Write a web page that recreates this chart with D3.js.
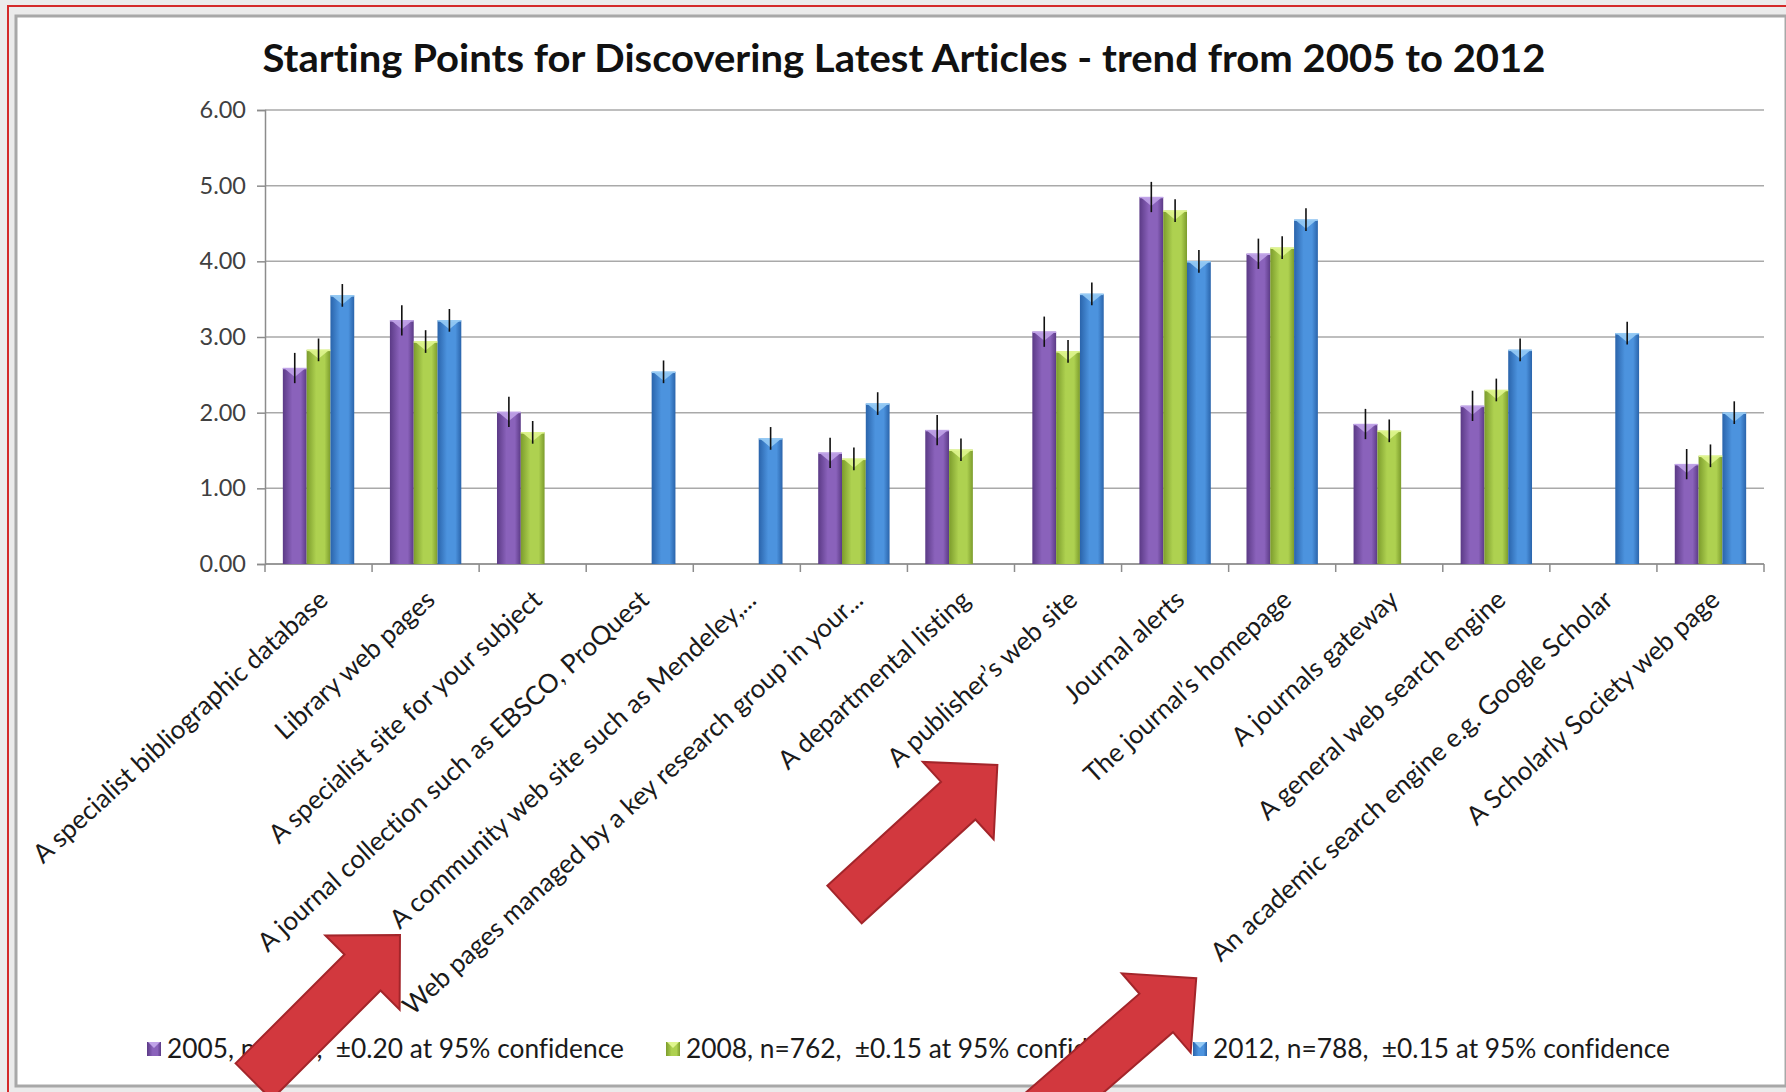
<!DOCTYPE html>
<html><head><meta charset="utf-8">
<script src="https://cdn.jsdelivr.net/npm/d3@7"></script>
<style>html,body{margin:0;padding:0;background:#ebebeb;} svg{display:block} text{font-variant-ligatures:none;}</style>
</head><body><svg id="c" width="1786" height="1092"></svg>
<script>
const categories = [
  "A specialist bibliographic database",
  "Library web pages",
  "A specialist site for your subject",
  "A journal collection such as EBSCO, ProQuest",
  "A community web site such as Mendeley,...",
  "Web pages managed by a key research group in your...",
  "A departmental listing",
  "A publisher\u2019s web site",
  "Journal alerts",
  "The journal\u2019s homepage",
  "A journals gateway",
  "A general web search engine",
  "An academic search engine e.g. Google Scholar",
  "A Scholarly Society web page"
];
const seriesNames = ["2005", "2008", "2012"];
const legendLabels = [
  "2005, n=423,  \u00b10.20 at 95% confidence",
  "2008, n=762,  \u00b10.15 at 95% confidence",
  "2012, n=788,  \u00b10.15 at 95% confidence"
];
const values2005 = [2.59, 3.22, 2.01, null, null, 1.47, 1.77, 3.07, 4.85, 4.10, 1.85, 2.09, null, 1.32];
const values2008 = [2.83, 2.94, 1.74, null, null, 1.39, 1.51, 2.81, 4.67, 4.18, 1.76, 2.30, null, 1.43];
const values2012 = [3.55, 3.22, null, 2.54, 1.66, 2.12, null, 3.57, 4.00, 4.55, null, 2.83, 3.05, 2.00];
const errors = [0.20, 0.15, 0.15];
const yTicks = [0, 1, 2, 3, 4, 5, 6];
const title = "Starting Points for Discovering Latest Articles - trend from 2005 to 2012";

const seriesValues = [values2005, values2008, values2012];
const palette = [
  {dark:"#5b3a86", mid:"#8a62bb", top:"#c0a3e8"},
  {dark:"#7c9c2c", mid:"#aed150", top:"#dff58e"},
  {dark:"#2a64ab", mid:"#4c93de", top:"#96cbf5"}
];

const svg = d3.select("#c");
const W = 1786, H = 1092;
const FONT = "Lato, 'Open Sans', sans-serif";

// background + frame
svg.append("rect").attr("x",0).attr("y",0).attr("width",W).attr("height",H).attr("fill","#ebebeb");
svg.append("rect").attr("x",8).attr("y",6).attr("width",W+20).attr("height",H+20)
  .attr("fill","none").attr("stroke","#d42a2a").attr("stroke-width",2);
svg.append("rect").attr("x",16).attr("y",16).attr("width",1770).attr("height",1070)
  .attr("fill","#ffffff").attr("stroke","#a8a8a8").attr("stroke-width",3);

const defs = svg.append("defs");
palette.forEach((p,i)=>{
  const g = defs.append("linearGradient").attr("id","g"+i).attr("x1","0").attr("x2","1").attr("y1","0").attr("y2","0");
  g.append("stop").attr("offset","0%").attr("stop-color",p.dark);
  g.append("stop").attr("offset","40%").attr("stop-color",p.mid);
  g.append("stop").attr("offset","75%").attr("stop-color",p.mid);
  g.append("stop").attr("offset","100%").attr("stop-color",p.dark);
});

const plot = {left:265, right:1764, top:110, bottom:564};
const x0 = d3.scaleBand().domain(categories).range([plot.left, plot.right]).paddingInner(0).paddingOuter(0);
const groupW = x0.bandwidth() * 3 / 4.5;
const x1 = d3.scaleBand().domain(seriesNames).range([0, groupW]).padding(0);
const y = d3.scaleLinear().domain([0, 6]).range([plot.bottom, plot.top]);

// gridlines
svg.append("g").selectAll("line").data(yTicks).join("line")
  .attr("x1", plot.left).attr("x2", plot.right)
  .attr("y1", d=>y(d)).attr("y2", d=>y(d))
  .attr("stroke", "#a9a9a9").attr("stroke-width", 1.5);

// y axis
const yAxis = d3.axisLeft(y).tickValues(yTicks).tickFormat(d3.format(".2f")).tickSize(8).tickPadding(11);
const ya = svg.append("g").attr("transform",`translate(${plot.left},0)`).call(yAxis);
ya.select(".domain").attr("stroke","#8c8c8c").attr("stroke-width",1.5);
ya.selectAll(".tick line").attr("stroke","#8c8c8c").attr("stroke-width",1.5);
ya.selectAll(".tick text").attr("font-family",FONT).attr("font-size",23.5).attr("fill","#404040");

// x axis line and ticks at category boundaries
const boundaries = categories.map(c=>x0(c)).concat([plot.right]);
svg.append("line").attr("x1",plot.left).attr("x2",plot.right).attr("y1",plot.bottom).attr("y2",plot.bottom)
  .attr("stroke","#8c8c8c").attr("stroke-width",1.5);
svg.append("g").selectAll("line").data(boundaries).join("line")
  .attr("x1",d=>d).attr("x2",d=>d).attr("y1",plot.bottom).attr("y2",plot.bottom+8)
  .attr("stroke","#8c8c8c").attr("stroke-width",1.5);

// bars
const barData = [];
categories.forEach((c,ci)=>{
  seriesNames.forEach((s,si)=>{
    const v = seriesValues[si][ci];
    if (v !== null) barData.push({c, s, si, v, e: errors[si]});
  });
});
const bx = d => x0(d.c) + (x0.bandwidth()-groupW)/2 + x1(d.s);
const bw = x1.bandwidth();
const bars = svg.append("g");
bars.selectAll("rect").data(barData).join("rect")
  .attr("x", bx).attr("y", d=>y(d.v)).attr("width", bw).attr("height", d=>y(0)-y(d.v))
  .attr("fill", d=>`url(#g${d.si})`);
bars.selectAll("path.top").data(barData).join("path").attr("class","top")
  .attr("d", d=>{ const X=bx(d), Y=y(d.v); return `M${X+1},${Y} L${X+bw-1},${Y} L${X+bw/2},${Y+9} Z`; })
  .attr("fill", d=>palette[d.si].top).attr("opacity",0.9);
bars.selectAll("line.top").data(barData).join("line").attr("class","top")
  .attr("x1", d=>bx(d)).attr("x2", d=>bx(d)+bw).attr("y1", d=>y(d.v)+0.5).attr("y2", d=>y(d.v)+0.5)
  .attr("stroke", d=>palette[d.si].top).attr("stroke-width",1.5);

// error bars
svg.append("g").selectAll("line").data(barData).join("line")
  .attr("x1", d=>bx(d)+bw/2).attr("x2", d=>bx(d)+bw/2)
  .attr("y1", d=>y(d.v+d.e)).attr("y2", d=>y(d.v-d.e))
  .attr("stroke","#111").attr("stroke-width",1.6);

// x labels
svg.append("g").selectAll("text").data(categories).join("text")
  .attr("transform", d=>`translate(${x0(d)+x0.bandwidth()/2+11},${plot.bottom+38}) rotate(-42.5)`)
  .attr("text-anchor","end").attr("font-family",FONT).attr("font-size",26).attr("fill","#1a1a1a")
  .text(d=>d);

// title
svg.append("text").attr("x",904).attr("y",72).attr("text-anchor","middle")
  .attr("font-family",FONT).attr("font-weight","bold").attr("font-size",39).attr("fill","#111")
  .attr("textLength",1283).attr("lengthAdjust","spacingAndGlyphs")
  .text(title);

// legend
const legendX = [147, 666, 1193];
const lg = svg.append("g");
legendLabels.forEach((t,i)=>{
  lg.append("rect").attr("x",legendX[i]).attr("y",1042).attr("width",14).attr("height",14).attr("fill",`url(#g${i})`);
  lg.append("path").attr("d",`M${legendX[i]+1},1042 L${legendX[i]+13},1042 L${legendX[i]+7},1048 Z`).attr("fill",palette[i].top);
  lg.append("text").attr("x",legendX[i]+20).attr("y",1058).attr("font-family",FONT).attr("font-size",26.3)
    .attr("fill","#1a1a1a").style("white-space","pre").text(t);
});

// annotation arrows (decorative)
const arrowShape = [[0,-25.5],[154,-25.5],[154,-52.5],[207,0],[154,52.5],[154,25.5],[0,25.5]];
const arrows = [
  {x:253.6, y:1081.4, angle:-45},
  {x:844.5, y:904.5, angle:-42.4},
  {x:1040, y:1114, angle:-41}
];
svg.append("g").selectAll("path").data(arrows).join("path")
  .attr("transform", a=>`translate(${a.x},${a.y}) rotate(${a.angle})`)
  .attr("d", d3.line()(arrowShape)+"Z")
  .attr("fill","#d2383e").attr("stroke","#a3252a").attr("stroke-width",2).attr("stroke-linejoin","miter");
</script></body></html>
